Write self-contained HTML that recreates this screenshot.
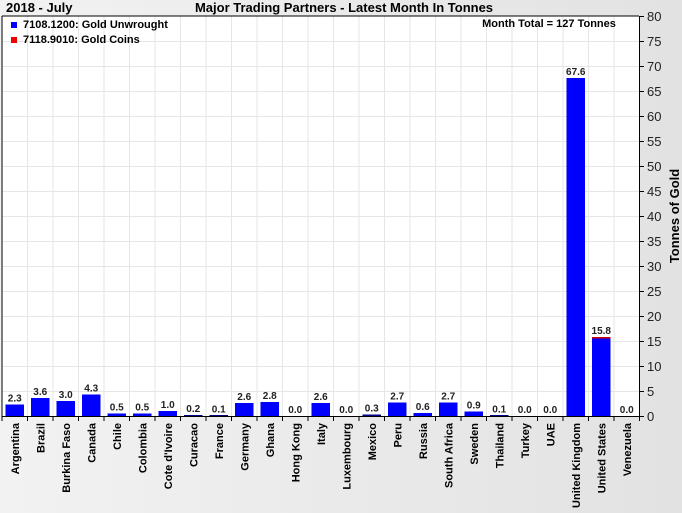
<!DOCTYPE html>
<html><head><meta charset="utf-8"><style>
html,body{margin:0;padding:0;}
body{width:682px;height:508px;overflow:hidden;background:linear-gradient(to right,#f2f2f2,#e2e2e2);font-family:"Liberation Sans",Arial,sans-serif;}
</style></head><body>
<svg width="682" height="508" xmlns="http://www.w3.org/2000/svg" font-family="Liberation Sans, Arial, sans-serif">
<rect x="2" y="16" width="637" height="400" fill="#fff"/>
<g stroke="#e6e6e6" stroke-width="1" id="grid"></g>
<g id="bars"></g>
<line x1="2" y1="16" x2="639" y2="16" stroke="#000"/>
<line x1="2" y1="16" x2="2" y2="416" stroke="#000"/>
<line x1="2" y1="416.5" x2="639" y2="416.5" stroke="#000"/>
<line x1="639.5" y1="16" x2="639.5" y2="417" stroke="#000"/>
<g id="axis" font-size="13" fill="#222"></g>
<text x="6" y="12" font-size="13" font-weight="bold">2018 - July</text>
<text x="344" y="12" font-size="13" font-weight="bold" text-anchor="middle">Major Trading Partners - Latest Month In Tonnes</text>
<rect x="11" y="22" width="6" height="6" fill="#00f"/>
<text x="23" y="28" font-size="11" font-weight="bold">7108.1200: Gold Unwrought</text>
<rect x="11" y="37" width="6" height="6" fill="#e00"/>
<text x="23" y="43" font-size="11" font-weight="bold">7118.9010: Gold Coins</text>
<text x="549" y="27" font-size="11" font-weight="bold" text-anchor="middle">Month Total = 127 Tonnes</text>
<text transform="translate(679,216) rotate(-90)" font-size="13" font-weight="bold" text-anchor="middle">Tonnes of Gold</text>
<g id="labels" font-size="11" font-weight="bold"></g>
</svg>
<script>
const ns="http://www.w3.org/2000/svg";
function el(p,t,a,txt){const e=document.createElementNS(ns,t);for(const k in a)e.setAttribute(k,a[k]);if(txt!==undefined)e.textContent=txt;document.getElementById(p).appendChild(e);return e;}
const names=["Argentina","Brazil","Burkina Faso","Canada","Chile","Colombia","Cote d'Ivoire","Curacao","France","Germany","Ghana","Hong Kong","Italy","Luxembourg","Mexico","Peru","Russia","South Africa","Sweden","Thailand","Turkey","UAE","United Kingdom","United States","Venezuela"];
const vals=[2.3,3.6,3.0,4.3,0.5,0.5,1.0,0.2,0.1,2.6,2.8,0.0,2.6,0.0,0.3,2.7,0.6,2.7,0.9,0.1,0.0,0.0,67.6,15.8,0.0];
const s=25.5,x0=2,y0=416,k=5;
for(let v=5;v<80;v+=5)el("grid","line",{x1:2,x2:639,y1:y0-v*k+.5,y2:y0-v*k+.5});
for(let i=1;i<25;i++)el("grid","line",{x1:x0+i*s,x2:x0+i*s,y1:16,y2:416});
for(let v=0;v<=80;v+=5){el("axis","line",{x1:639,x2:644,y1:y0-v*k+.5,y2:y0-v*k+.5,stroke:"#000"});el("axis","text",{x:647,y:y0-v*k+5},String(v));}
for(let i=0;i<=25;i++)el("axis","line",{x1:x0+i*s,x2:x0+i*s,y1:416,y2:421,stroke:"#000"});
vals.forEach((v,i)=>{const bx=x0+i*s+3.5,h=v*k;
 if(i==23){el("bars","rect",{x:bx,y:y0-h,width:18.5,height:h,fill:"#00f"});el("bars","rect",{x:bx,y:y0-h,width:18.5,height:1.5,fill:"#c00"});}
 else if(h>0)el("bars","rect",{x:bx,y:y0-Math.max(h,1),width:18.5,height:Math.max(h,1),fill:v<0.5?"#008":"#00f"});
 el("bars","text",{x:bx+9.25,y:y0-h-3,"font-size":"10","font-weight":"bold","text-anchor":"middle",fill:"#222"},v.toFixed(1));
 const cx=x0+i*s+s/2+4;
 el("labels","text",{transform:`translate(${cx},423) rotate(-90)`,"text-anchor":"end"},names[i]);
});
</script>
</body></html>
